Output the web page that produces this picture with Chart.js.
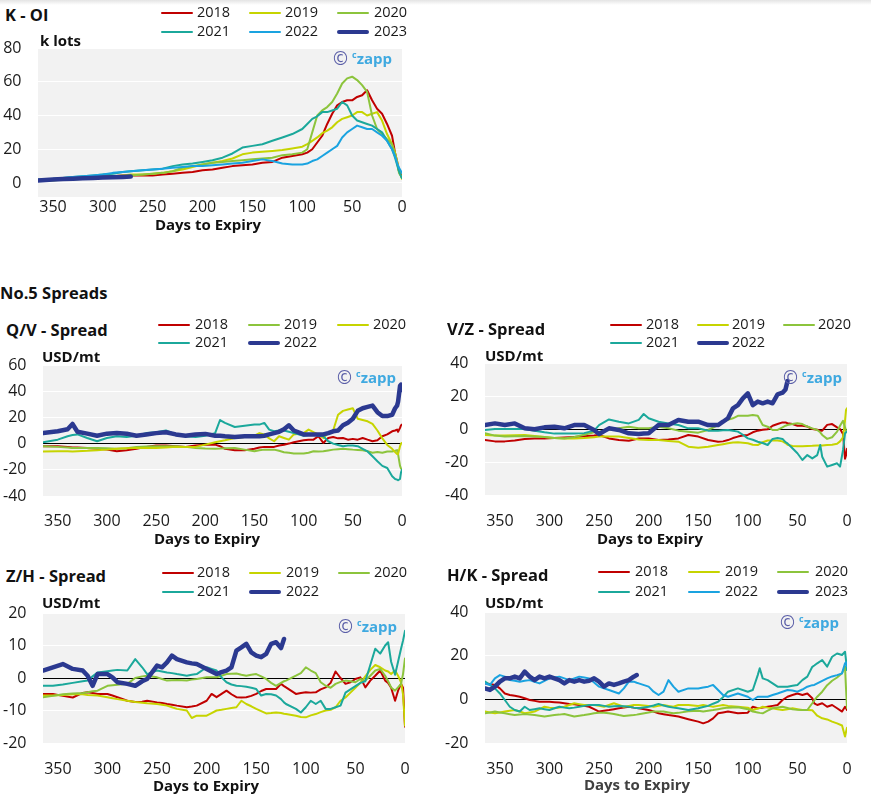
<!DOCTYPE html>
<html><head><meta charset="utf-8">
<script src="https://cdn.jsdelivr.net/npm/chart.js@4.4.0/dist/chart.umd.min.js"></script>
<style>
html,body{margin:0;padding:0;background:#fff;}
#root{position:relative;width:871px;height:796px;overflow:hidden;font-family:'Open Sans',sans-serif;color:#111;}
canvas{position:absolute;}
.t{position:absolute;white-space:nowrap;line-height:1;}
.shadow{position:absolute;left:0;top:0;width:871px;height:5px;background:linear-gradient(#e4e4e4,rgba(255,255,255,0));}
</style></head><body><div id="root"><div class="shadow"></div></div>
<script>
// ---------- shared axis ticks ----------
const xTicks = [0,50,100,150,200,250,300,350];
const koiYTicks = [0,20,40,60,80];
const qvYTicks = [-40,-20,0,20,40,60];
const vzYTicks = [-40,-20,0,20,40];
const zhYTicks = [-20,-10,0,10,20];
const hkYTicks = [-20,0,20,40];

// ---------- K - OI (k lots) ----------
const koiDays = [365,350,340,330,320,310,300,290,280,272,260,250,240,230,220,210,200,190,180,170,160,150,140,130,120,110,100,95,90,85,80,75,70,65,60,55,50,45,40,35,30,25,20,15,10,7,5,3,1,0];
const koi2018 = [1.5,2,2.5,3,3,3.5,4,4,4.5,4.5, 4.5,4.5,5,5.5,6,6.5,7.5,8,9,10, 10.5,11,12,12.5,15,16,17,18,20,24, 28,35,41,46,48,49,49,51,52,55, 49,44,41,35,28,18,13,7,5,4];
const koi2019 = [1.5,2,2.5,3,3,3.5,3.5,4,4.5,5, 5,5.5,6,7,8,9.5,11,12,13,14.5, 17,18,18.5,19,19.5,20.5,21.5,23,25,27, 29.5,31,33,36,38,39,40,42,42,40, 41,42,37,29,23,18,13,8,4,2.5];
const koi2020 = [1.5,1.5,2,2,2.5,3,3,3.5,4,4.5, 5,5.5,6,7,9,10,11,12,12.5,13, 13.5,14,14.5,15,16.5,17,18,20,30,40, 43,45,48,53,59,62,63,61,58,54, 40,32,29,26,23,17,12,6,4,3];
const koi2021 = [2,2.5,3,3.5,4,4.5,5,5.5,6.5,7, 7.5,8,8.5,10,11,11.5,12.5,13.5,15,17.5, 21,22,23,25,27,29,32,35,38,39.5, 42,42,43,44,48,46,40,37,36,35, 34,32,30,25,20,15,11,7,4,3];
const koi2022 = [1.5,2,3,3.5,4,4.5,5,6,6.5,7, 7.5,8,8.5,9,9.5,10,10,10.5,11,11.5, 12,13,14,13,11.5,11,11,11.5,13,14, 16,18,20,22,27,30,32,34,33,32, 32,30,28,25,20,16,12,9,7,6];
const koi2023 = [1.5,2,2.3,2.5,2.8,3,3.2,3.4,3.6,3.8];

// ---------- Q/V spread (USD/mt) ----------
const qvDays = [365,350,340,335,330,320,310,300,290,280, 270,260,250,240,230,220,210,200,190,185, 180,170,160,150,145,140,135,130,125,120, 115,110,100,95,90,85,80,75,70,65, 60,55,50,45,40,35,30,25,20,15, 10,7,5,4,2,1,0];
const qv2018 = [-2,-2,-2.5,-3,-3,-3.3,-4,-4.6,-5.8,-5, -4,-2.5,-1.5,-1.5,-2,-2.5,-1.5,-0.8,-0.8,-2, -4,-5,-5,-4,-3,-2.5,-2.5,-2.5,-1.5,-0.8, 0,1,2.5,3,3,5.6,0.5,4.3,5,4, 4.3,3,3.6,3,4.3,3,1.8,2.5,5.6,7, 9.4,10,10.7,9,12,14,14.5];
const qv2019 = [-2,-2.5,-3,-3.3,-3.3,-3.3,-3.3,-3.5,-4,-3.5, -2.5,-2.2,-2,-2,-2,-2.5,-3.3,-3.8,-4,-3.8, -3.5,-3.3,-4.6,-5.8,-5,-4.6,-4.6,-4.6,-5.5,-6.6, -7,-7.6,-7.6,-7,-5.8,-6,-5.8,-5.2,-4.6,-4.3, -4,-4.3,-4.6,-4.8,-5,-5.8,-7,-6.5,-7,-6, -6,-5.5,-5,-8,-17,-19,-20];
const qv2020 = [-6,-5.8,-5.8,-6,-5.8,-5.5,-5,-4.6,-4,-3.6, -3.3,-3.3,-3.3,-3,-2.5,-2.5,-2.5,-0.8,1,1.8, 2.5,4.3,5,6,8,7,4,1.8,5.6,4.3, 3,7,8,10.7,8.7,7,4.3,8,10,22, 25,26,27,19,18,17,15,10,4,-1, -4,-6.5,-8,-8,-2,0,0.5];
const qv2021 = [1,3,5.6,6.5,7,4.3,1.8,4.3,5.6,5, 6,8,8.7,10,7,5.6,5,6,8,18, 15.8,12.7,13.7,14.5,14.5,15.8,10.7,9.4,10,10, 9,8,6,6.5,7,6,5.6,1.8,0,-1, -2,-1.5,-1.5,-2,-4,-6,-9.7,-13.5,-17,-18.6, -25,-27,-27.5,-28,-27,-22,-20];
const qv2022 = [8,9.4,11,15,9,7.6,6,7.6,8,7.6, 6,7,8,8.7,7,6,7,7.4,6,6, 5.6,5,5.6,5.6,5.6,6,7,8,9,11, 14,10,7,7,7,7,7,8,9.4,10, 14,16,19,25,27,28,29,24,21,21, 22,27,29,32,44,45,41];

// ---------- V/Z spread (USD/mt) ----------
const vzDays = [365,355,345,335,325,315,305,295,285,275, 265,255,250,240,230,220,210,205,200,190, 180,170,160,150,140,130,125,120,115,110, 105,100,95,90,85,80,75,70,65,62, 60,55,50,45,40,35,30,27,25,20, 15,10,7,4,2,1,0];
const vz2018 = [-6.7,-7.5,-7.5,-7,-6,-5.7,-5.7,-5.5,-5.2,-4.8, -4.4,-4,-3.6,-5.7,-6.7,-7.1,-5.7,-5.7,-5.7,-6.7, -6.3,-5.7,-3.6,-4.6,-6.7,-7.7,-7.5,-6.7,-5.5,-4.6, -4,-3.6,-2,-1,-0.5,-0.2,2,3,4,4, 3.5,3,2,2,1.5,0,-0.5,-1,-1,2.5, 3,1,0,-3,-18,-16,-12];
const vz2019 = [-3.6,-4,-4,-3.8,-3.6,-4.2,-4.8,-5.5,-5.7,-5.7, -5.5,-5,-4.6,-4.6,-4.6,-5.5,-6.3,-6.5,-6.7,-6.7, -7.2,-7.7,-10.7,-11.3,-10.7,-9.7,-9.2,-8.7,-8.2,-8, -8.3,-8.6,-9.5,-9.7,-8,-7,-7,-7,-7.5,-8.5, -9.5,-10.3,-10.5,-10.5,-10.3,-10.2,-10,-10,-10,-9.7, -9.5,-9,-7.5,-5,5,11.5,12.5];
const vz2020 = [-2.6,-4,-4.6,-4.4,-4.2,-4.5,-4.8,-5.4,-5.7,-4.8, -3.5,-2,-1.6,-0.6,0.4,1.4,0.4,0.4,0.4,1.4, 0.4,-1,-1.6,-2.2,-0.6,2.4,4.4,5.5,6.5,8, 8,8,8.5,8,2.4,1.4,-0.6,-0.6,1,2, 2.4,3,3.5,3,1.5,0.4,-0.6,-2,-3.6,-6, -5,-1.6,2,5,1,-1,-2];
const vz2021 = [-0.6,0,0,0,0,-1,-2,-2.8,-2.8,-2.8, -2.5,-1,2.4,5.8,4.4,3.4,5.5,9.1,6.5,4.4, 3.4,2.4,0.4,0.4,-1,-1,-0.8,-0.6,-1,-1.6, -3.5,-5.7,-6.5,-7.7,-8.5,-9.7,-6,-5.5,-6,-8, -8.7,-11.7,-14.7,-18.8,-15.8,-17.8,-15.8,-9.7,-16.8,-22.8, -21.8,-20.8,-22.8,-12.7,-2.6,-2,-1.6];
const vz2022 = [2.4,3.4,2.4,3.4,0.4,-0.2,1,1.4,0.4,2.4, 2.4,-0.6,-3,0.4,-0.6,-2.6,-3,-2.8,-2.6,2.4, 2.4,5.5,4.4,4.4,2.4,2.4,4.4,6.5,12.5,14.5, 18.6,21.6,14.5,16.6,15.6,16.6,15.6,21,22,24, 29];

// ---------- Z/H spread (USD/mt) ----------
const zhDays = [365,355,345,335,325,320,315,310,300,295, 290,280,272,265,260,250,245,240,235,230, 220,215,210,200,195,190,185,180,175,170, 165,160,155,150,145,140,135,130,125,122, 120,110,105,100,95,90,85,80,75,70, 65,60,55,50,45,40,35,30,25,20, 17,14,10,7,4,2,0];
const zh2018 = [-4.9,-4.9,-5.5,-6,-4.6,-4.4,-4.6,-4.9,-4.9,-5.4, -5.9,-7,-7.4,-7.3,-7,-7.5,-7.7,-8,-8.2,-8.5, -9,-8.8,-8.5,-7,-4.9,-5.9,-4.9,-3.9,-5,-5.9, -6,-5.9,-5.5,-4.9,-4,-3.4,-3.4,-3.4,-1.8,-2.5, -2.9,-4.9,-4.6,-4.4,-4.5,-4.4,-3.5,-2.9,-1.5,2, 0,-1.8,-1.3,-0.3,0.2,-2.9,-0.8,0.7,2.3,-0.8, -1.5,-3,-7,-3.9,-1.8,-3,-15];
const zh2019 = [-5.4,-5.4,-5.2,-5,-5,-5.2,-5.3,-5.4,-5.9,-6.2, -6.5,-7,-7.4,-7.6,-7.8,-8,-8.2,-8.5,-9,-9.5, -10,-12.3,-11.6,-11.6,-10.8,-10,-9.8,-9.5,-9.2,-9, -7,-8,-8.7,-9.5,-10.2,-10.9,-10.8,-10.6,-10.8,-11, -11.1,-11.6,-12,-12.1,-11.5,-11.1,-10.5,-10,-9.8,-9, -7,-6,-4.5,-3,-1.5,0.5,2.5,4,3.3,2.3, 2,1.2,2.3,0.7,-1.3,-5,-14.7];
const zh2020 = [-5.9,-5.5,-5,-4.8,-4.6,-4.4,-4.1,-3.9,-2.4,-2.2, -2.1,-1.8,0,0.5,0.7,0.2,-0.3,-0.8,-0.7,-0.6, -0.8,-0.5,-0.3,0.2,0.2,0.2,0.7,1.2,1.3,1.4, 1,0.7,1,1.2,0.5,-0.3,-1.5,-2.4,-1.5,-1, -0.8,0.7,1.5,3.3,2.3,1.5,-1.3,-2.4,-3,-1.8, -1.2,-0.8,-1,-1.3,-0.3,-0.8,0.7,2.3,2.8,0.7, -1,-2.9,-3.9,-2.9,-1.8,1.2,6];
const zh2021 = [-2.4,-2.4,-2,-1.5,-1,-0.8,0.5,1.7,2.1,2.3, 2.5,2.3,5.8,3.3,1.2,2.3,2,1.7,1.5,1.2, 0.7,1,1.2,3.3,2.8,2.3,0.2,-1.3,-2,-2.4, -2.5,-2.7,-3,-3.4,-5.4,-4.9,-5,-5.4,-6.5,-7.5, -8,-9.5,-10.6,-9,-7,-8,-7,-9.5,-9.5,-9, -8.5,-4.5,-3.5,-2.5,-1.5,-1,4,9,7.5,10, 11,5,1,5,9,11.5,14.5];
const zh2022 = [2.3,3.3,4.3,2.8,2.3,0.7,-2.4,1.2,1.2,0.2, -1.3,-1.8,-2.4,-1,-0.3,3.8,3.3,4.8,6.9,5.8, 4.8,4.5,4.3,2.8,2,1.2,1.8,2.3,3.3,8.4, 9.4,10.5,7.9,6.9,6.4,7.4,10.5,11,9.2,12];

// ---------- H/K spread (USD/mt) ----------
const hkDays = [365,360,355,350,345,340,335,330,325,320, 315,310,305,300,295,290,285,280,275,270, 265,260,255,250,245,240,235,230,225,220, 215,212,210,200,195,190,185,180,175,170, 160,150,145,140,135,130,125,120,110,100, 95,90,88,85,80,75,70,65,60,55, 50,45,40,35,33,30,25,20,15,10, 5,2,1,0];
const hk2018 = [7.3,7,6.6,5,2.7,2,1.6,1.2,0.5,-0.3, -0.7,-1.1,-1.1,-1.1,-1.3,-1.5,-1.8,-2.1,-2.3,-2.6, -3,-3.4,-4.5,-5.6,-5.2,-4.9,-4.5,-4.1,-3.8,-3.4, -3.8,-4,-4.1,-4.9,-5.6,-6.4,-6.8,-7.2,-7.5,-7.9, -9.1,-10.2,-11,-10.2,-8.7,-6.4,-6,-5.6,-6.4,-6.1, -3.4,-4.1,-4,-3.8,-3.4,-3,-2.6,-0.3,1.2,2, 2.7,2,2.7,0.5,-1.8,-2.6,-1.8,-3.4,-2.6,-4.1, -5.6,-3.4,-4,-4.9];
const hk2019 = [-5.6,-6,-6.4,-6,-5.6,-5.2,-4.9,-5.6,-6.4,-6, -5.6,-4.5,-3.4,-3.8,-4.1,-3.8,-3.4,-2.6,-1.8,-2.2, -2.6,-2.6,-2.6,-3,-3.4,-2.6,-1.8,-2.6,-3.4,-3, -2.6,-2.6,-2.6,-3,-3.4,-3,-2.6,-3,-3.4,-2.6, -2.6,-3,-2.6,-3,-3.4,-3,-2.6,-3,-3.4,-3.8, -4.9,-4.2,-4,-3.4,-3.8,-4.1,-4.5,-4.9,-4.5,-4.1, -4.5,-4.9,-4.9,-5,-6,-7.5,-8.7,-9.2,-10.2,-11, -12,-17,-15,-13];
const hk2020 = [-6.4,-6,-5.6,-6,-6.4,-6.8,-7.2,-7,-6.7,-7, -7.2,-7.5,-7.9,-7.5,-7.2,-7,-6.7,-7.3,-7.9,-7.5, -7.2,-6.8,-6.4,-6.2,-6.1,-6.4,-6.7,-7.2,-7.6,-7.4, -7.2,-7,-6.8,-6,-5.6,-5.6,-5.6,-6,-6.4,-6.2, -5.5,-5.2,-5.6,-5.2,-4.9,-4.5,-4.1,-3.8,-3.6,-4.5, -5.6,-6,-6.2,-6.4,-5.2,-4.1,-3.7,-3.4,-4,-4.6, -4.8,-4.9,-4.9,-1.8,-0.5,1.2,3.5,6.5,8.5,10, 12,15,5,-4];
const hk2021 = [8.1,6.6,5,2.7,-0.3,-3.4,-4.9,-5.6,-3.4,-4.9, -4.5,-4.1,-4.5,-4.9,-4.1,-3.4,-3.8,-4.1,-3.8,-3.4, -3,-2.6,-2.6,-2.6,-3,-3.4,-3.2,-3,-3.2,-3.4, -3.8,-4,-4.1,-3.4,-2.8,-2.1,-2.8,-3.4,-3.8,-4.1, -4.9,-4.1,-3.5,-3,-2,-1.1,1,3.5,5,3.5, 4.3,11.1,14.2,9.6,8.8,7.3,5.8,5.8,5.8,6.2, 6.6,8.8,10.4,14.9,15.5,16.5,18,15,19.5,21, 20.3,21.8,18,13.4];
const hk2022 = [7.3,6.6,9.6,11.1,10.4,8.8,8.5,8.1,8.5,8.8, 8,7.3,8.5,9.6,10,10.4,9.6,8.8,9.6,10.4, 10,9.6,7.7,5.8,5,4.3,3.5,2.7,5,8.1, 8.1,7.6,7.3,5.8,3.5,2,3.5,8.8,5.8,3.5, 5,5,5.4,5.8,6.6,4.3,2,1.2,2.7,1.2, -0.3,1.2,1.2,1.2,1.2,2,2.7,3.5,4.3,4, 3.5,4.5,5.8,6.5,6.6,7.3,8.5,9.6,10.5,11.1, 11.9,16.5,17,15];
const hk2023 = [5,4.3,5.8,8.1,9.6,9.6,10.4,9.6,12.7,10.4, 8.8,10.4,9.6,10.4,9.6,8.8,7.3,8.8,8.1,8.8, 8.1,8.5,9.6,8.1,5.8,7.3,6.6,7.3,8.1,8.8, 10.4,11.1];

// ---------- styles ----------
const COL = {red:'#C00000', yel:'#C6D400', grn:'#8CC43C', teal:'#1BA89B', blue:'#1AA3E0', navy:'#2B3990'};
const FONT = "'Open Sans', sans-serif";
Chart.defaults.font.family = FONT;

const panels = [
  { title:'K - OI', unit:'k lots', days:koiDays, yMin:-8.3, yMax:80, yTicks:koiYTicks, zero:false,
    series:[['2018',koi2018,COL.red],['2019',koi2019,COL.yel],['2020',koi2020,COL.grn],['2021',koi2021,COL.teal],['2022',koi2022,COL.blue],['2023',koi2023,COL.navy,1]],
    cv:{l:0,t:28,w:414,h:202,pt:20,xh:33,yw:38,xp:1},
    lay:{title:[5,16],unit:[40,41],rows:[13,32],lines:[161,249,337],texts:[197,285,374],axis:[208,225],wm:[333,59]} },
  { title:'Q/V - Spread', unit:'USD/mt', days:qvDays, yMin:-40, yMax:60, yTicks:qvYTicks, zero:true,
    series:[['2018',qv2018,COL.red],['2019',qv2019,COL.grn],['2020',qv2020,COL.yel],['2021',qv2021,COL.teal],['2022',qv2022,COL.navy,1]],
    cv:{l:0,t:350,w:414,h:185,pt:15,xh:39,yw:43,xp:16},
    lay:{title:[6,331],unit:[42,357],rows:[325,343],lines:[158,248,337],texts:[195,284,373],axis:[207,539],wm:[337,378]} },
  { title:'V/Z - Spread', unit:'USD/mt', days:vzDays, yMin:-40, yMax:40, yTicks:vzYTicks, zero:true,
    series:[['2018',vz2018,COL.red],['2019',vz2019,COL.yel],['2020',vz2020,COL.grn],['2021',vz2021,COL.teal],['2022',vz2022,COL.navy,1]],
    cv:{l:440,t:348,w:419,h:187,pt:15,xh:40,yw:45,xp:16.5},
    lay:{title:[447,330],unit:[485,356],rows:[325,343],lines:[610,697,783],texts:[646,732,818],axis:[650,539],wm:[783,378]} },
  { title:'Z/H - Spread', unit:'USD/mt', days:zhDays, yMin:-20, yMax:20, yTicks:zhYTicks, zero:true,
    series:[['2018',zh2018,COL.red],['2019',zh2019,COL.yel],['2020',zh2020,COL.grn],['2021',zh2021,COL.teal],['2022',zh2022,COL.navy,1]],
    cv:{l:0,t:598,w:417,h:187,pt:15,xh:42,yw:43,xp:16.5},
    lay:{title:[6,577],unit:[42,603],rows:[573,592],lines:[162,249,338],texts:[197,286,374],axis:[206,786],wm:[338,627]} },
  { title:'H/K - Spread', unit:'USD/mt', days:hkDays, yMin:-20, yMax:40, yTicks:hkYTicks, zero:true,
    series:[['2018',hk2018,COL.red],['2019',hk2019,COL.yel],['2020',hk2020,COL.grn],['2021',hk2021,COL.teal],['2022',hk2022,COL.blue],['2023',hk2023,COL.navy,1]],
    cv:{l:440,t:597,w:419,h:188,pt:15,xh:42,yw:45,xp:16.5},
    lay:{title:[447,576],unit:[485,603],rows:[572,592],lines:[598,688,777],texts:[635,725,815],axis:[637,785],axisColor:'#404040',wm:[780,623]} }
];

const root = document.getElementById('root');
function addText(html, x, cy, fs, o = {}) {
  const d = document.createElement('div');
  d.className = 't';
  d.innerHTML = html;
  d.style.fontSize = fs + 'px';
  d.style.top = (cy - 0.53 * fs) + 'px';
  d.style.left = x + 'px';
  if (o.center) d.style.transform = 'translateX(-50%)';
  if (o.bold) d.style.fontWeight = '700';
  if (o.color) d.style.color = o.color;
  root.appendChild(d);
  return d;
}
function addLine(x, cy, w, h, color) {
  const d = document.createElement('div');
  d.style.cssText = `position:absolute;left:${x}px;top:${cy - h/2}px;width:${w}px;height:${h}px;background:${color};border-radius:${h/2}px;`;
  root.appendChild(d);
}

const bgPlugin = {
  id: 'plotBg',
  beforeDraw(chart) {
    const a = chart.chartArea, c = chart.ctx;
    c.save(); c.fillStyle = '#F2F2F2';
    c.fillRect(a.left, a.top, a.right - a.left, a.bottom - a.top);
    c.restore();
  }
};

panels.forEach(p => {
  const cv = document.createElement('canvas');
  cv.width = p.cv.w; cv.height = p.cv.h;
  cv.style.left = p.cv.l + 'px'; cv.style.top = p.cv.t + 'px';
  cv.style.width = p.cv.w + 'px'; cv.style.height = p.cv.h + 'px';
  root.appendChild(cv);

  const datasets = p.series.map((s, i) => ({
    label: s[0],
    data: s[1].map((v, j) => ({ x: p.days[j], y: v })),
    borderColor: s[2],
    borderWidth: s[3] ? 4.5 : 2,
    pointRadius: 0,
    tension: 0,
    fill: false,
    borderJoinStyle: 'round',
    borderCapStyle: 'round',
    order: -i
  }));

  new Chart(cv, {
    type: 'line',
    data: { datasets },
    options: {
      responsive: false, animation: false, devicePixelRatio: 1,
      layout: { padding: { left: 0, top: p.cv.pt, right: 12, bottom: 0 } },
      plugins: { legend: { display: false }, tooltip: { enabled: false } },
      scales: {
        x: {
          type: 'linear', reverse: true, min: 0, max: 365,
          afterBuildTicks: s => { s.ticks = xTicks.map(v => ({ value: v })); },
          afterFit: s => { s.height = p.cv.xh; s.paddingLeft = 0; s.paddingRight = 0; },
          grid: { display: false, drawTicks: false },
          border: { display: false },
          ticks: { font: { size: 16 }, color: '#1a1a1a', padding: p.cv.xp, maxRotation: 0, autoSkip: false }
        },
        y: {
          type: 'linear', min: p.yMin, max: p.yMax,
          afterBuildTicks: s => { s.ticks = p.yTicks.map(v => ({ value: v })); },
          afterFit: s => { s.width = p.cv.yw; s.paddingTop = 0; s.paddingBottom = 0; },
          grid: { drawTicks: false, lineWidth: 1,
                  color: ctx => (p.zero && ctx.tick && ctx.tick.value === 0) ? '#000000' : '#FFFFFF' },
          border: { display: false },
          ticks: { font: { size: 16 }, color: '#1a1a1a', padding: 16.5 }
        }
      }
    },
    plugins: [bgPlugin]
  });

  // titles / units / axis title
  const L = p.lay;
  addText(p.title, L.title[0], L.title[1], 16.5, { bold: true });
  addText(p.unit, L.unit[0], L.unit[1], 15, { bold: true });
  addText('Days to Expiry', L.axis[0], L.axis[1], 15, { bold: true, center: true, color: L.axisColor || '#111' });

  // legend (3 columns, 2 rows)
  p.series.forEach((s, i) => {
    const col = i % 3, row = Math.floor(i / 3);
    const cy = L.rows[row];
    addLine(L.lines[col], cy, 32, s[3] ? 4.5 : 2.5, s[2]);
    addText(s[0], L.texts[col], cy, 14.5, { color: '#1a1a1a' });
  });

  // watermark
  addText('©', L.wm[0], L.wm[1], 18, { color: '#5B5FA8' });
  addText('<span style="font-size:9px;position:relative;top:-6px;">c</span>zapp', L.wm[0] + 19, L.wm[1], 15, { bold: true, color: '#3FA9E0' });
});

addText('No.5 Spreads', 0, 294, 16.5, { bold: true });
</script>
</body></html>
